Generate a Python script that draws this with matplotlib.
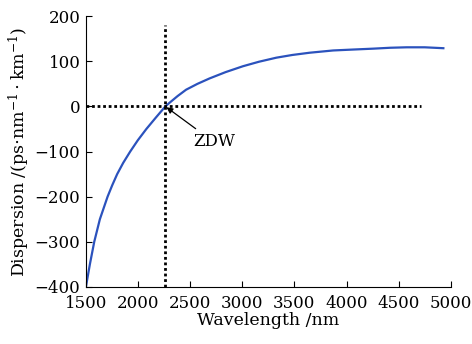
import matplotlib.pyplot as plt

plt.rcParams['font.family'] = ['DejaVu Serif']
plt.rcParams['mathtext.fontset'] = 'dejavuserif'

# dispersion curve
wavelength = [1500, 1538, 1580, 1634, 1708, 1752, 1800, 1858, 1925, 1998,
              2080, 2170, 2262, 2302, 2380, 2461, 2570, 2686, 2840, 3006,
              3160, 3327, 3480, 3647, 3872, 4060, 4256, 4420, 4577, 4750,
              4929]
dispersion = [-400, -350, -300, -250, -200, -175, -150, -125, -100, -75,
              -50, -25, 0, 8, 23, 37, 50, 62, 76, 89,
              99, 108, 114, 119, 124, 126, 128, 130, 131, 131,
              129]
zdw = 2262
zero_line_end = 4710
vline_top = 180

fig = plt.figure(figsize=(4.72, 3.44), dpi=100)
ax = fig.add_axes([0.182, 0.166, 0.773, 0.787])

ax.plot(wavelength, dispersion, color='#2b52bd', lw=1.6)
ax.plot([1500, zero_line_end], [0, 0], color='black', lw=2, ls=(0, (1, 1)))
ax.plot([zdw, zdw], [-400, vline_top], color='black', lw=2, ls=(0, (1, 1)))

ax.annotate('ZDW', xy=(zdw, 0), xytext=(2530, -78), fontsize=12,
            va='center', ha='left',
            arrowprops=dict(arrowstyle='-|>', color='black', lw=0.9,
                            shrinkA=2, shrinkB=1, mutation_scale=9,
                            relpos=(0.2, 1.0)))

ax.set_xlim(1500, 5000)
ax.set_ylim(-400, 200)
ax.set_xticks(range(1500, 5001, 500))
ax.set_yticks(range(-400, 201, 100))
ax.spines['top'].set_visible(False)
ax.spines['right'].set_visible(False)
ax.tick_params(direction='in', length=4, labelsize=12)
ax.tick_params(axis='x', pad=6)
ax.tick_params(axis='y', pad=4)
ax.set_xlabel('Wavelength /nm', fontsize=12.5, labelpad=0)
ax.set_ylabel(r'Dispersion /(ps$\cdot$nm$^{-1}\cdot$km$^{-1}$)', fontsize=12.5, labelpad=2)

fig.savefig('out.png', dpi=100)
